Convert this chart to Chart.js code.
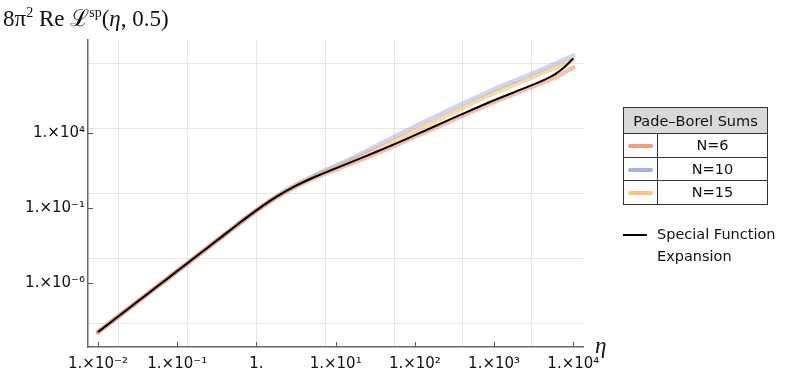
<!DOCTYPE html>
<html>
<head>
<meta charset="utf-8">
<script src="https://cdn.jsdelivr.net/npm/chart.js@4/dist/chart.umd.min.js"></script>
<style>
  body { margin: 0; background: #fff; }
  #wrap { position: relative; width: 793px; height: 374px; }
  #title { position: absolute; left: 3px; top: 1px; font: 23px "Liberation Serif", serif; color: #111; white-space: nowrap; }
  #title sup { font-size: 14px; }
  #etaLabel { position: absolute; left: 595px; top: 333px; font: italic 23px "Liberation Serif", serif; color: #111; }
  #legend { position: absolute; left: 623px; top: 107px; border-collapse: collapse; font: 14.5px "DejaVu Sans", sans-serif; color: #111; }
  #legend td, #legend th { border: 1px solid #333; padding: 0; text-align: center; }
  #legend th { background: #d9d9d9; font-weight: normal; height: 25px; width: 143px; }
  #legend td { height: 22.5px; }
  #legend td.sw { width: 33px; }
  #legend td.sw span { display: inline-block; width: 25px; height: 4px; border-radius: 2px; vertical-align: middle; }
  #special { position: absolute; left: 623px; top: 224px; font: 14.5px "DejaVu Sans", sans-serif; color: #111; line-height: 21.7px; }
  #special span.ln { position: absolute; left: 0; top: 10px; width: 24px; height: 2px; background: #000; }
  #special div.tx { margin-left: 34px; }
</style>
</head>
<body>
<div id="wrap">
  <canvas id="chart" width="793" height="374"></canvas>
  <div id="title">8π<sup>2</sup> Re ℒ<sup>sp</sup>(<i>η</i>, 0.5)</div>
  <div id="etaLabel">η</div>
  <table id="legend">
    <tr><th colspan="2">Pade–Borel Sums</th></tr>
    <tr><td class="sw"><span style="background:#f0a07c"></span></td><td>N=6</td></tr>
    <tr><td class="sw"><span style="background:#a7b0e0"></span></td><td>N=10</td></tr>
    <tr><td class="sw"><span style="background:#f8c97a"></span></td><td>N=15</td></tr>
  </table>
  <div id="special"><span class="ln"></span><div class="tx">Special Function<br>Expansion</div></div>
</div>
<script>
// log10 of eta (x) and log10 of the curve values (y)
const logEta = [-2, -1.75, -1.5, -1.25, -1, -0.75, -0.5, -0.25, 0, 0.25, 0.5, 0.75, 1, 1.25, 1.5, 1.75, 2, 2.25, 2.5, 2.75, 3, 3.25, 3.5, 3.625, 3.75, 3.875, 4];

const logSpecial = [-9.29, -8.27, -7.25, -6.23, -5.21, -4.19, -3.17, -2.14, -1.15, -0.25, 0.5, 1.12, 1.66, 2.2, 2.74, 3.3, 3.88, 4.48, 5.07, 5.65, 6.22, 6.75, 7.28, 7.57, 7.9, 8.38, 9.02];
const logN6  = [-9.3, -8.28, -7.26, -6.24, -5.22, -4.2, -3.18, -2.16, -1.18, -0.29, 0.45, 1.06, 1.58, 2.1, 2.64, 3.2, 3.78, 4.36, 4.95, 5.53, 6.1, 6.64, 7.17, 7.43, 7.7, 8.05, 8.42];
const logN10 = [-9.29, -8.27, -7.25, -6.23, -5.21, -4.19, -3.17, -2.14, -1.14, -0.23, 0.56, 1.24, 1.84, 2.46, 3.12, 3.8, 4.46, 5.1, 5.74, 6.35, 6.95, 7.5, 8.05, 8.33, 8.62, 8.9, 9.2];
const logN15 = [-9.29, -8.27, -7.25, -6.23, -5.21, -4.19, -3.17, -2.14, -1.14, -0.24, 0.53, 1.18, 1.76, 2.32, 2.9, 3.52, 4.15, 4.8, 5.44, 6.08, 6.7, 7.25, 7.8, 8.08, 8.35, 8.62, 8.9];

// tick labels
const xTickExp = [-2, -1, 0, 1, 2, 3, 4];
const xTickLabels = ["1.×10⁻²", "1.×10⁻¹", "1.", "1.×10¹", "1.×10²", "1.×10³", "1.×10⁴"];
const yTickExp = [-6, -1, 4];
const yTickLabels = ["1.×10⁻⁶", "1.×10⁻¹", "1.×10⁴"];

// grid lines sit at natural-log steps
const xGridLn = [-4, -2, 0, 2, 4, 6, 8];
const yGridLn = [-20, -10, 0, 10, 20];

const xMin = Math.pow(10, -2.126), xMax = Math.pow(10, 4.122);
const yMin = Math.pow(10, -10.29), yMax = Math.pow(10, 10.25);

function pts(ly){
  return logEta.map((lx, i) => ({x: Math.pow(10, lx), y: Math.pow(10, ly[i])}));
}

const innerTicks = {
  id: 'innerTicks',
  afterDatasetsDraw(chart){
    const {ctx, chartArea, scales} = chart;
    ctx.save();
    ctx.strokeStyle = '#555';
    ctx.lineWidth = 1;
    xTickExp.forEach(e => {
      const px = Math.round(scales.x.getPixelForValue(Math.pow(10, e))) + 0.5;
      ctx.beginPath(); ctx.moveTo(px, chartArea.bottom); ctx.lineTo(px, chartArea.bottom - 5); ctx.stroke();
    });
    yTickExp.forEach(e => {
      const py = Math.round(scales.y.getPixelForValue(Math.pow(10, e))) + 0.5;
      ctx.beginPath(); ctx.moveTo(chartArea.left, py); ctx.lineTo(chartArea.left + 5, py); ctx.stroke();
    });
    ctx.restore();
  }
};

const font = {family: 'DejaVu Sans', size: 15};

new Chart(document.getElementById('chart'), {
  type: 'line',
  data: {
    datasets: [
      {label: 'Special Function Expansion', data: pts(logSpecial), borderColor: '#000', borderWidth: 2},
      {label: 'N=6', data: pts(logN6), borderColor: 'rgba(236,130,90,0.5)', borderWidth: 4.5, borderCapStyle: 'round'},
      {label: 'N=10', data: pts(logN10), borderColor: 'rgba(150,160,222,0.45)', borderWidth: 4.5, borderCapStyle: 'round'},
      {label: 'N=15', data: pts(logN15), borderColor: 'rgba(246,186,90,0.55)', borderWidth: 4.5, borderCapStyle: 'round'}
    ]
  },
  options: {
    responsive: false,
    animation: false,
    layout: {padding: {left: 0, right: 210, top: 40, bottom: 0}},
    elements: {point: {radius: 0}, line: {tension: 0.4, fill: false}},
    plugins: {legend: {display: false}, tooltip: {enabled: false}},
    scales: {
      x: {
        type: 'logarithmic', position: 'bottom', min: xMin, max: xMax, bounds: 'data',
        afterBuildTicks: sc => { sc.ticks = xTickExp.map(e => ({value: Math.pow(10, e)})); },
        afterFit: sc => { sc.height = 27; },
        ticks: {autoSkip: false, maxRotation: 0, padding: 8, color: '#111', font: font,
          callback: (v, i) => xTickLabels[i]},
        grid: {display: false, drawTicks: false},
        border: {display: true, color: '#666', width: 1.5}
      },
      xg: {
        type: 'logarithmic', position: 'bottom', min: xMin, max: xMax, bounds: 'data',
        afterBuildTicks: sc => { sc.ticks = xGridLn.map(l => ({value: Math.exp(l)})); },
        afterFit: sc => { sc.height = 0; },
        ticks: {display: false},
        grid: {color: '#e6e6e6', lineWidth: 1, drawTicks: false},
        border: {display: false}
      },
      y: {
        type: 'logarithmic', position: 'left', min: yMin, max: yMax, bounds: 'data',
        afterBuildTicks: sc => { sc.ticks = yTickExp.map(e => ({value: Math.pow(10, e)})); },
        afterFit: sc => { sc.width = 88; },
        ticks: {autoSkip: false, padding: 3, color: '#111', font: font,
          callback: (v, i) => yTickLabels[i]},
        grid: {display: false, drawTicks: false},
        border: {display: true, color: '#666', width: 1.5}
      },
      yg: {
        type: 'logarithmic', position: 'left', min: yMin, max: yMax, bounds: 'data',
        afterBuildTicks: sc => { sc.ticks = yGridLn.map(l => ({value: Math.exp(l)})); },
        afterFit: sc => { sc.width = 0; },
        ticks: {display: false},
        grid: {color: '#e6e6e6', lineWidth: 1, drawTicks: false},
        border: {display: false}
      }
    }
  },
  plugins: [innerTicks]
});
</script>
</body>
</html>
